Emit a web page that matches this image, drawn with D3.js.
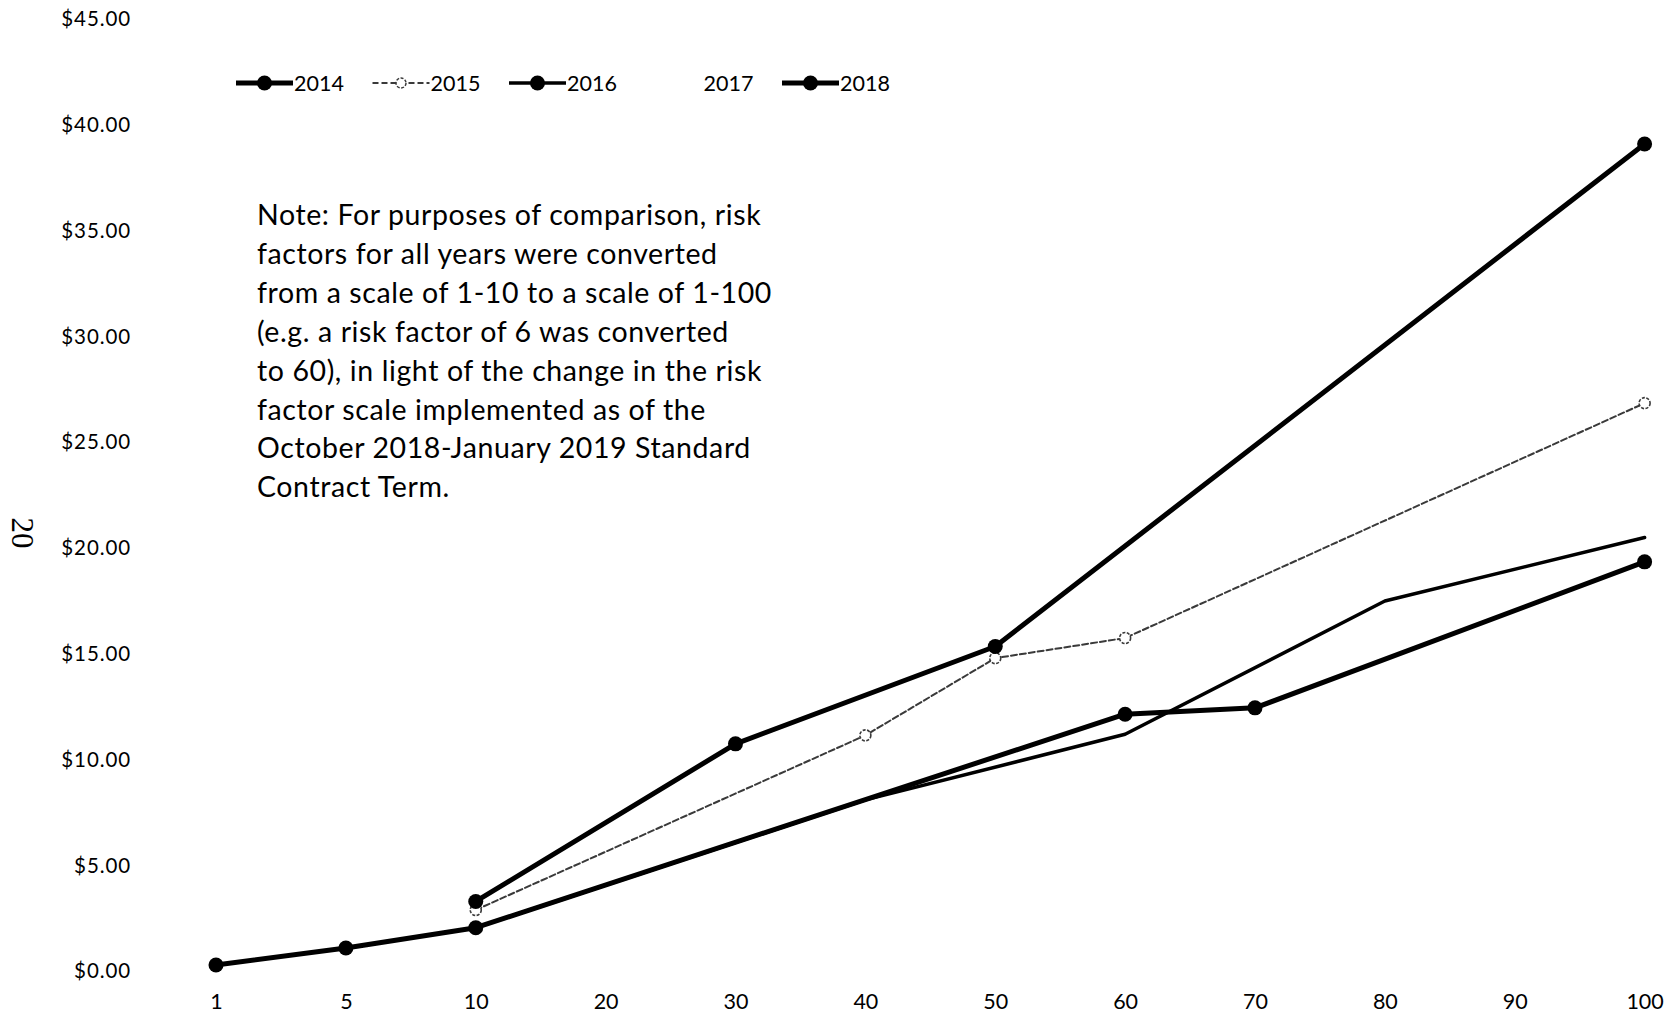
<!DOCTYPE html>
<html>
<head>
<meta charset="utf-8">
<script src="https://cdn.jsdelivr.net/npm/d3@7/dist/d3.min.js"></script>
<style>
  html, body { margin: 0; padding: 0; background: #fff; }
  svg { display: block; }
</style>
</head>
<body>
<svg id="chart" width="1668" height="1015"></svg>
<script>
// ---- data ----
const categories = ["1", "5", "10", "20", "30", "40", "50", "60", "70", "80", "90", "100"];
const yTickValues = [0, 5, 10, 15, 20, 25, 30, 35, 40, 45];
const years = ["2014", "2015", "2016", "2017", "2018"];
const values2014 = [null, null, 3.3, null, 10.75, null, 15.35, null, null, null, null, 39.1];
const values2015 = [null, null, 2.9, null, null, 11.15, 14.8, 15.75, null, null, null, 26.85];
const values2016 = [null, null, 2.06, null, null, 8.1, null, 11.2, null, 17.5, null, 20.5];
const values2017 = [null, null, null, null, null, null, null, null, null, null, null, null];
const values2018 = [0.3, 1.1, 2.06, null, null, null, null, 12.15, 12.45, null, null, 19.35];
const noteLines = [
  "Note: For purposes of comparison, risk",
  "factors for all years were converted",
  "from a scale of 1-10 to a scale of 1-100",
  "(e.g. a risk factor of 6 was converted",
  "to 60), in light of the change in the risk",
  "factor scale implemented as of the",
  "October 2018-January 2019 Standard",
  "Contract Term."
];
const pageNumber = "20";

// ---- styles per series ----
const seriesValues = [values2014, values2015, values2016, values2017, values2018];
const styles = [
  { stroke: "#000", width: 5, dash: null, marker: "solid", legendMarker: "solid" },
  { stroke: "#3a3a3a", width: 2, dash: "6,3", marker: "open", legendMarker: "open" },
  { stroke: "#000", width: 3.5, dash: null, marker: "none", legendMarker: "solid" },
  { stroke: "#fff", width: 5, dash: null, marker: "none", legendMarker: "none" },
  { stroke: "#000", width: 5, dash: null, marker: "solid", legendMarker: "solid" }
];
const FONT = "Lato, 'Open Sans', sans-serif";

const svg = d3.select("#chart");
const x = d3.scalePoint().domain(categories).range([216, 1644.6]);
const y = d3.scaleLinear().domain([0, 45]).range([971.3, 19.1]);

// y axis
const yAxis = svg.append("g").attr("transform", "translate(139,0)")
  .call(d3.axisLeft(y).tickValues(yTickValues).tickFormat(d3.format("$.2f")).tickSize(0).tickPadding(8));
yAxis.select(".domain").remove();
yAxis.selectAll("text").style("font-family", FONT).style("font-size", "20.5px")
  .style("letter-spacing", "0.9px").attr("fill", "#000");

// x axis
const xAxis = svg.append("g").attr("transform", "translate(0,994)")
  .call(d3.axisBottom(x).tickSize(0).tickPadding(0));
xAxis.select(".domain").remove();
xAxis.selectAll("text").style("font-family", FONT).style("font-size", "21.5px").attr("fill", "#000");

// lines
const line = d3.line().x(d => x(d.c)).y(d => y(d.v));
const order = [3, 1, 2, 0, 4];
order.forEach(i => {
  const pts = categories.map((c, k) => ({ c, v: seriesValues[i][k] })).filter(d => d.v !== null);
  const st = styles[i];
  if (!pts.length) return;
  svg.append("path").datum(pts).attr("d", line)
    .attr("fill", "none").attr("stroke", st.stroke).attr("stroke-width", st.width)
    .attr("stroke-linejoin", "round").attr("stroke-linecap", "round")
    .attr("stroke-dasharray", st.dash);
  const g = svg.append("g");
  pts.forEach(p => {
    if (st.marker === "solid") {
      g.append("circle").attr("cx", x(p.c)).attr("cy", y(p.v)).attr("r", 7.5).attr("fill", "#000");
    } else if (st.marker === "open") {
      g.append("circle").attr("cx", x(p.c)).attr("cy", y(p.v)).attr("r", 5.5)
        .attr("fill", "#fff").attr("stroke", "#3a3a3a").attr("stroke-width", 1.6).attr("stroke-dasharray", "3,1.5");
    }
  });
});

// legend
const legend = svg.append("g").attr("transform", "translate(236,83)");
years.forEach((yr, i) => {
  const st = styles[i];
  const g = legend.append("g").attr("transform", `translate(${i * 136.5},0)`);
  g.append("line").attr("x1", 0).attr("x2", 57).attr("y1", 0).attr("y2", 0)
    .attr("stroke", st.stroke).attr("stroke-width", st.width).attr("stroke-dasharray", st.dash);
  if (st.legendMarker === "solid") {
    g.append("circle").attr("cx", 28.5).attr("cy", 0).attr("r", 7.5).attr("fill", "#000");
  } else if (st.legendMarker === "open") {
    g.append("circle").attr("cx", 28.5).attr("cy", 0).attr("r", 5)
      .attr("fill", "#fff").attr("stroke", "#3a3a3a").attr("stroke-width", 1.5).attr("stroke-dasharray", "3,1.5");
  }
  g.append("text").attr("x", 58).attr("y", 0).attr("dy", "0.36em")
    .style("font-family", FONT).style("font-size", "21.5px").attr("fill", "#000").text(yr);
});

// note
const note = svg.append("text").attr("x", 257).attr("y", 225)
  .style("font-family", FONT).style("font-size", "28.5px").style("letter-spacing", "0.6px").attr("fill", "#000");
noteLines.forEach((t, i) => {
  note.append("tspan").attr("x", 257).attr("y", 225 + i * 38.9).text(t);
});

// page number
svg.append("text").attr("transform", "translate(12,533) rotate(90)")
  .attr("text-anchor", "middle").style("font-family", "'Liberation Serif', 'DejaVu Serif', serif")
  .style("font-size", "31px").attr("fill", "#000")
  .text(pageNumber);
</script>
</body>
</html>
